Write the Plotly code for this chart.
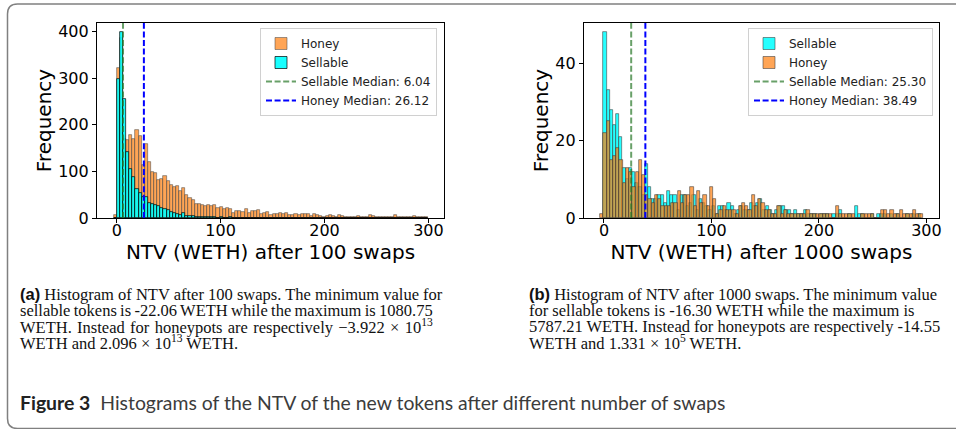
import numpy as np
import plotly.graph_objects as go

# ---------------- data ----------------
# Panel (a): NTV after 100 swaps, bins of width 3 starting at -3
a_bin_start = -3.0
a_bin_width = 3.0
a_honey = [6, 322, 385, 170, 168, 178, 169, 188, 175, 114,
           158, 120, 99, 97, 82, 84, 91, 80, 70, 66,
           69, 58, 64, 50, 42, 38, 31, 30, 28, 26,
           28, 26, 27, 21, 23, 20, 22, 19, 10, 16,
           15, 13, 19, 11, 16, 16, 17, 9, 10, 12,
           7, 9, 9, 10, 8, 10, 7, 7, 9, 6,
           8, 8, 8, 5, 9, 6, 4, 3, 4, 6,
           5, 2, 6, 4, 2, 2, 3, 2, 4, 3,
           2, 3, 6, 5, 3, 2, 2, 3, 2, 3,
           6, 2, 2, 2, 3, 2, 4, 3, 2, 3,
           2]
a_sellable = [0, 297, 398, 255, 142, 105, 88, 62, 53, 46,
              44, 33, 30, 28, 26, 22, 20, 18, 12, 10,
              8, 6, 10, 5, 4, 4, 3, 3, 2, 3,
              2, 2, 2, 1, 2, 1, 1, 2, 1, 1,
              0, 1, 1, 0, 1, 0, 1, 0, 1, 0,
              1, 0, 0, 0, 0, 0, 0, 0, 0, 0,
              0, 0, 0, 0, 0, 0, 0, 0, 0, 0,
              0, 0, 0, 0, 0, 0, 0, 0, 0, 0,
              0, 0, 0, 0, 0, 0, 0, 0, 0, 0,
              0, 0, 0, 0, 0, 0, 0, 0, 0, 0,
              0]
a_median_sellable = 6.04
a_median_honey = 26.12

# Panel (b): NTV after 1000 swaps, each class binned on its own edges
b_honey_start = -3.6
b_honey_width = 3.0
b_sell_start = -0.6
b_sell_width = 2.96
b_honey = [1, 22, 25, 15, 16, 18, 15, 9, 13, 12,
           8, 12, 15, 11, 6, 5, 4, 6, 5, 3,
           3, 3, 4, 4, 7, 4, 6, 6, 8, 3,
           7, 4, 6, 3, 8, 5, 1, 2, 3, 2,
           2, 2, 1, 3, 4, 3, 2, 6, 3, 5,
           4, 2, 2, 1, 1, 3, 1, 2, 1, 1,
           1, 1, 1, 1, 2, 1, 1, 1, 1, 1,
           1, 1, 0, 3, 1, 1, 1, 1, 1, 0,
           0, 1, 1, 1, 1, 0, 0, 2, 2, 1,
           2, 1, 1, 2, 1, 1, 1, 2, 1, 1]
b_sellable = [48, 33, 28, 24, 27, 21, 13, 10, 13, 12,
              9, 8, 6, 14, 8, 5, 5, 6, 6, 4,
              7, 6, 6, 2, 6, 6, 3, 4, 6, 2,
              5, 4, 3, 2, 3, 1, 3, 3, 2, 4,
              3, 1, 2, 3, 2, 2, 4, 3, 4, 5,
              2, 3, 2, 1, 2, 3, 3, 2, 2, 1,
              2, 1, 1, 2, 1, 1, 1, 0, 1, 1,
              1, 0, 1, 1, 2, 0, 0, 1, 0, 3,
              1, 1, 0, 0, 1, 0, 1, 1, 1, 0,
              1, 0, 1, 0, 0, 1, 0, 1, 0, 1]
b_median_sellable = 25.30
b_median_honey = 38.49

x_ticks = [0, 100, 200, 300]
a_y_ticks = [0, 100, 200, 300, 400]
b_y_ticks = [0, 20, 40]

# ---------------- helpers ----------------
W, H = 956, 429


def px(x):
    return x / W


def py(y):
    return 1 - y / H


def centers(start, width, counts):
    return start + width * (np.arange(len(counts)) + 0.5)


ORANGE = "rgba(255,127,14,0.7)"
CYAN_A = "rgba(0,255,255,0.9)"
CYAN_B = "rgba(0,255,255,0.85)"
GREEN = "rgba(40,120,40,0.7)"
BLUE = "#0000ff"
DASH = "6px,2.6px"

fig = go.Figure()

# ---- panel (a) ----
fig.add_trace(go.Bar(
    x=centers(a_bin_start, a_bin_width, a_honey), y=a_honey,
    width=a_bin_width, name="Honey",
    marker=dict(color=ORANGE, line=dict(color="rgba(70,70,70,0.75)", width=0.7)),
    xaxis="x", yaxis="y", legend="legend"))
fig.add_trace(go.Bar(
    x=centers(a_bin_start, a_bin_width, a_sellable), y=a_sellable,
    width=a_bin_width, name="Sellable",
    marker=dict(color=CYAN_A, line=dict(color="black", width=0.7)),
    xaxis="x", yaxis="y", legend="legend"))
a_top = 418
fig.add_trace(go.Scatter(
    x=[a_median_sellable, a_median_sellable], y=[0, a_top], mode="lines",
    name=f"Sellable Median: {a_median_sellable:.2f}",
    line=dict(color=GREEN, width=2, dash=DASH),
    xaxis="x", yaxis="y", legend="legend"))
fig.add_trace(go.Scatter(
    x=[a_median_honey, a_median_honey], y=[0, a_top], mode="lines",
    name=f"Honey Median: {a_median_honey:.2f}",
    line=dict(color=BLUE, width=2, dash=DASH),
    xaxis="x", yaxis="y", legend="legend"))

# ---- panel (b) ----
fig.add_trace(go.Bar(
    x=centers(b_sell_start, b_sell_width, b_sellable), y=b_sellable,
    width=b_sell_width, name="Sellable",
    marker=dict(color=CYAN_B, line=dict(color="rgba(60,60,60,0.8)", width=0.7)),
    xaxis="x2", yaxis="y2", legend="legend2"))
fig.add_trace(go.Bar(
    x=centers(b_honey_start, b_honey_width, b_honey), y=b_honey,
    width=b_honey_width, name="Honey",
    marker=dict(color=ORANGE, line=dict(color="rgba(60,60,60,0.8)", width=0.7)),
    xaxis="x2", yaxis="y2", legend="legend2"))
b_top = 50.4
fig.add_trace(go.Scatter(
    x=[b_median_sellable, b_median_sellable], y=[0, b_top], mode="lines",
    name=f"Sellable Median: {b_median_sellable:.2f}",
    line=dict(color=GREEN, width=2, dash=DASH),
    xaxis="x2", yaxis="y2", legend="legend2"))
fig.add_trace(go.Scatter(
    x=[b_median_honey, b_median_honey], y=[0, b_top], mode="lines",
    name=f"Honey Median: {b_median_honey:.2f}",
    line=dict(color=BLUE, width=2, dash=DASH),
    xaxis="x2", yaxis="y2", legend="legend2"))

TICKFONT = dict(family="DejaVu Sans", size=16, color="black")
TITLEFONT = dict(family="DejaVu Sans", size=20, color="black")
axis_common = dict(showline=True, linecolor="black", linewidth=1.2, mirror=True,
                   ticks="outside", ticklen=4, tickwidth=1.2, tickcolor="black",
                   showgrid=False, zeroline=False, tickfont=TICKFONT,
                   automargin=False)

legend_common = dict(bgcolor="rgba(255,255,255,0.85)", bordercolor="#d0d0d0",
                     borderwidth=1, font=dict(family="DejaVu Sans", size=12, color="#222"),
                     xanchor="right", yanchor="top", traceorder="normal",
                     itemwidth=30, tracegroupgap=0)

fig.update_layout(
    width=W, height=H, margin=dict(l=0, r=0, t=0, b=0),
    paper_bgcolor="white", plot_bgcolor="white",
    barmode="overlay", bargap=0, showlegend=True,
    xaxis=dict(domain=[px(97), px(444)], range=[-19, 315], anchor="y",
               tickvals=x_ticks, ticklabelstandoff=-6,
               title=dict(text="NTV (WETH) after 100 swaps", font=TITLEFONT, standoff=2),
               **axis_common),
    yaxis=dict(domain=[py(218), py(23)], range=[0, a_top], anchor="x",
               tickvals=a_y_ticks,
               title=dict(text="Frequency", font=TITLEFONT, standoff=1),
               **axis_common),
    xaxis2=dict(domain=[px(584), px(939)], range=[-18.6, 311.7], anchor="y2",
                tickvals=x_ticks, ticklabelstandoff=-6,
                title=dict(text="NTV (WETH) after 1000 swaps", font=TITLEFONT, standoff=2),
                **axis_common),
    yaxis2=dict(domain=[py(218), py(23)], range=[0, b_top], anchor="x2",
                tickvals=b_y_ticks,
                title=dict(text="Frequency", font=TITLEFONT, standoff=1),
                **axis_common),
    legend=dict(x=px(437), y=py(28), **legend_common),
    legend2=dict(x=px(933), y=py(28), **legend_common),
)

# ---- outer frame with rounded left corners ----
L, T, B, R, r = 7.5, 4.0, 428.5, 990.0, 10.0
frame = (f"M {px(R)},{py(T)} L {px(L + r)},{py(T)} "
         f"Q {px(L)},{py(T)} {px(L)},{py(T + r)} "
         f"L {px(L)},{py(B - r)} "
         f"Q {px(L)},{py(B)} {px(L + r)},{py(B)} "
         f"L {px(R)},{py(B)}")
fig.add_shape(type="path", path=frame, xref="paper", yref="paper",
              line=dict(color="#808080", width=1.5), layer="above")

# ---- sub-figure captions ----
SERIF = "Liberation Serif"
BOLD_SANS = "<span style=\"font-family:'Liberation Sans'\"><b>{}</b></span>"


def spaced(text, ws):
    # adjust inter-word gaps so a line fills the column (justified text)
    if ws == 0:
        return text
    return f"<span style=\"word-spacing:{ws}px\">{text}</span>"


caption_a = [
    BOLD_SANS.format("(a)") + " Histogram of NTV after 100 swaps. The minimum value for",
    spaced("sellable tokens is -22.06 WETH while the maximum is 1080.75", -0.8),
    spaced("WETH. Instead for honeypots are respectively \u22123.922 \u00d7 10", 1.2)
    + "<sup>13</sup>",
    "WETH and 2.096 \u00d7 10<sup>13</sup> WETH.",
]
caption_b = [
    BOLD_SANS.format("(b)") + " Histogram of NTV after 1000 swaps. The minimum value",
    "for sellable tokens is -16.30 WETH while the maximum is",
    "5787.21 WETH. Instead for honeypots are respectively -14.55",
    "WETH and 1.331 \u00d7 10<sup>5</sup> WETH.",
]
line_centres = [294.0, 310.3, 326.6, 342.9]

for xs, lines in ((18, caption_a), (526.5, caption_b)):
    for yc, txt in zip(line_centres, lines):
        fig.add_annotation(x=px(xs), y=py(yc), xref="paper", yref="paper",
                           xanchor="left", yanchor="middle", showarrow=False,
                           text=txt, align="left",
                           font=dict(family=SERIF, size=16.5, color="#111"))

fig.add_annotation(
    x=px(18), y=py(402), xref="paper", yref="paper",
    xanchor="left", yanchor="middle", showarrow=False, align="left",
    text="<b>Figure 3</b>  <span style=\"color:#3c3c3c\">Histograms of the NTV of the new tokens "
         "after different number of swaps</span>",
    font=dict(family="Lato", size=19.4, color="#222"))

fig.write_html("out.html")
